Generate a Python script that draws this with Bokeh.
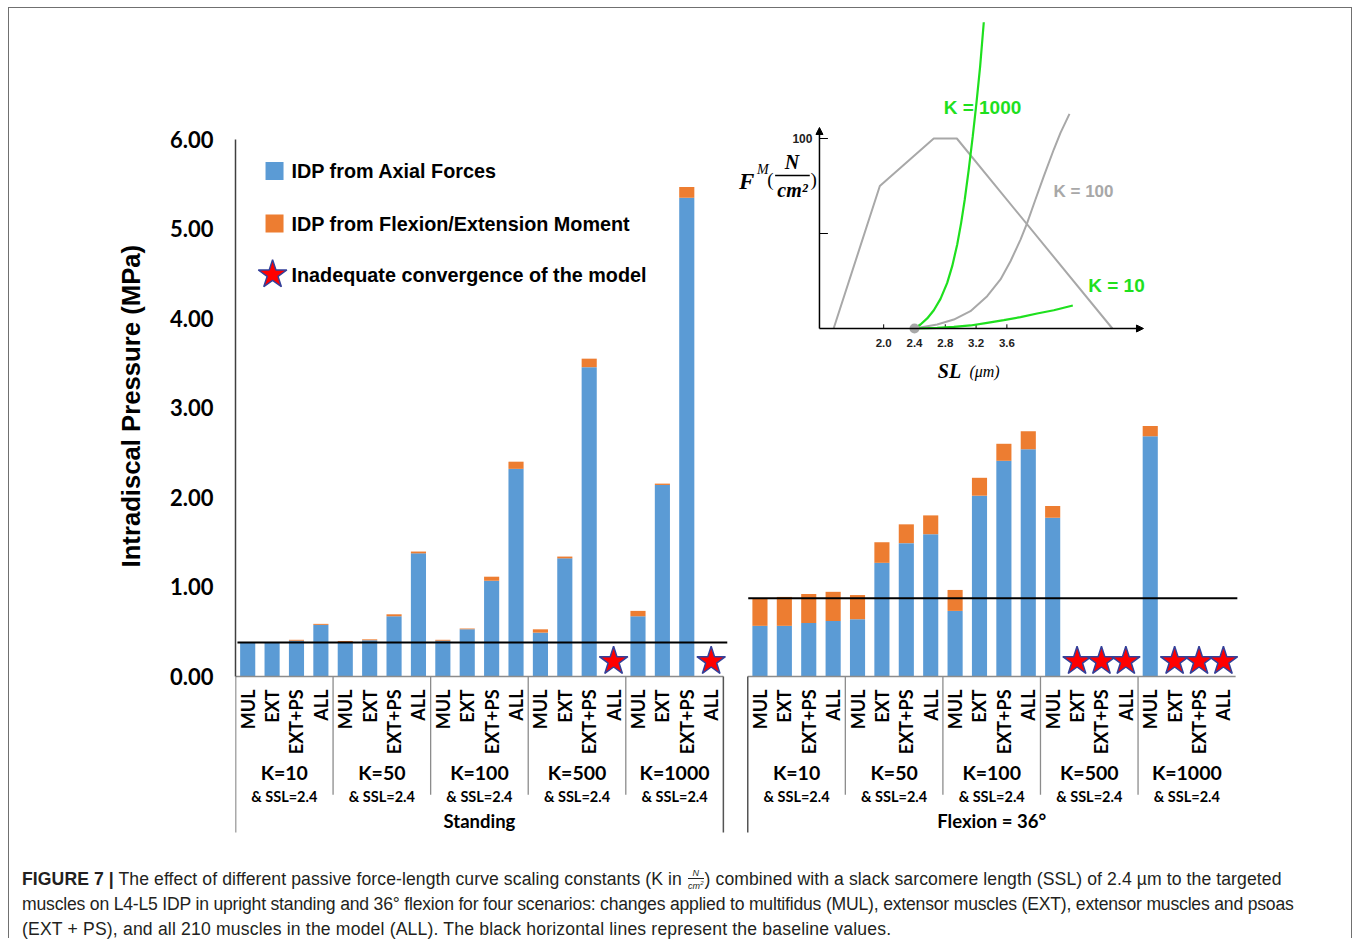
import math
import numpy as np
import pandas as pd
from bokeh.plotting import figure
from bokeh.models import (Range1d, FixedTicker, NumeralTickFormatter, Arrow,
                          NormalHead, Div, ColumnDataSource, Title)
from bokeh.layouts import column
from bokeh.embed import file_html
from bokeh.resources import INLINE
from bokeh.core.properties import value

# ---------------- data ----------------
scenarios = ["MUL", "EXT", "EXT+PS", "ALL"]
k_labels = ["K=10", "K=50", "K=100", "K=500", "K=1000"]
ssl_label = "& SSL=2.4"
postures = ["Standing", "Flexion = 36°"]
y_ticks = [0, 1, 2, 3, 4, 5, 6]
y_title = "Intradiscal Pressure (MPa)"

# IDP (MPa); 4 scenarios per K group; None = inadequate convergence
standing_axial = [0.38, 0.38, 0.40, 0.577,
                  0.38, 0.405, 0.673, 1.376,
                  0.40, 0.528, 1.07, 2.32,
                  0.49, 1.32, 3.456, None,
                  0.673, 2.14, 5.35, None]
standing_moment = [0.003, 0.003, 0.01, 0.011,
                   0.017, 0.01, 0.022, 0.02,
                   0.01, 0.008, 0.045, 0.08,
                   0.037, 0.02, 0.095, None,
                   0.06, 0.015, 0.12, None]
flexion_axial = [0.566, 0.566, 0.598, 0.62,
                 0.64, 1.27, 1.49, 1.59,
                 0.733, 2.02, 2.41, 2.54,
                 1.775, None, None, None,
                 2.685, None, None, None]
flexion_moment = [0.308, 0.323, 0.324, 0.326,
                  0.27, 0.23, 0.21, 0.21,
                  0.234, 0.20, 0.19, 0.20,
                  0.13, None, None, None,
                  0.115, None, None, None]
baselines = [0.38, 0.875]

# inset: force-length curves (SL in um, F in N/cm^2)
active_sl = [1.35, 1.95, 2.65, 2.95, 4.97]
active_f = [0, 75, 100, 100, 0]
k1000_sl = [2.40, 2.478, 2.565, 2.651, 2.738, 2.825, 2.890, 2.955, 3.006,
            3.053, 3.105, 3.157, 3.205, 3.253, 3.300]
k1000_f = [0, 2.1, 5.3, 9.6, 15.6, 24.0, 32.8, 44.2, 55.6,
           67.9, 83.7, 101.2, 118.8, 138.1, 161.2]
k100_sl = [2.40, 2.695, 2.911, 3.127, 3.344, 3.517, 3.647, 3.777, 3.864,
           3.971, 4.080, 4.209, 4.296, 4.413]
k100_f = [0, 2.1, 4.7, 9.1, 17.0, 25.8, 35.4, 46.8, 55.6,
          67.9, 80.2, 94.2, 103.0, 113.0]
k10_sl = [2.40, 2.695, 2.911, 3.127, 3.344, 3.56, 3.777, 3.993, 4.209, 4.456]
k10_f = [0, 0.35, 0.9, 1.6, 3.0, 4.4, 6.0, 7.9, 9.6, 12.1]
inset_xticks = [2.0, 2.4, 2.8, 3.2, 3.6]
inset_yticks = [50, 100]
slack_sl = 2.4

# ---------------- styles ----------------
BLUE = "#5B9BD5"
ORANGE = "#ED7D31"
GREEN = "#1EE01E"
GREY = "#A8A8A8"
STAR_Y = 0.17
BAR_W = 0.62

rows = []
for pi_, (ax_, mo_) in enumerate([(standing_axial, standing_moment),
                                   (flexion_axial, flexion_moment)]):
    for i in range(20):
        rows.append(dict(x=pi_ * 21 + i + 0.5,
                         axial=np.nan if ax_[i] is None else ax_[i],
                         moment=np.nan if mo_[i] is None else mo_[i],
                         label=scenarios[i % 4],
                         failed=ax_[i] is None))
df = pd.DataFrame(rows)
src = ColumnDataSource(df[["x", "axial", "moment"]])

p = figure(width=1342, height=844, output_backend="svg", toolbar_location=None,
           x_range=Range1d(0, 41.2), y_range=Range1d(-1.877, 7.385),
           x_axis_location=None, min_border_left=226, min_border_right=111,
           min_border_top=7, min_border_bottom=8)
p.outline_line_color = None
p.grid.visible = False
p.background_fill_color = "white"
p.border_fill_color = "white"

ax = p.yaxis[0]
ax.ticker = FixedTicker(ticks=y_ticks)
ax.formatter = NumeralTickFormatter(format="0.00")
ax.bounds = (0, 6)
ax.major_label_text_font = "Lato"
ax.major_label_text_font_style = "bold"
ax.major_label_text_font_size = "22px"
ax.major_label_text_color = "black"
ax.major_label_standoff = 22
ax.major_tick_line_color = None
ax.minor_tick_line_color = None
ax.major_tick_out = 0
ax.major_tick_in = 0
ax.axis_line_color = "#404040"
ax.axis_line_width = 1.5

# y-axis title as a side title (lets it sit off-centre like the original)
p.add_layout(Title(text=y_title, align="left", offset=277, standoff=44,
                   text_font="Liberation Sans", text_font_style="bold",
                   text_font_size="25.7px", text_color="black"), "left")

# bars
p.vbar_stack(["axial", "moment"], x="x", width=BAR_W, source=src,
             fill_color=[BLUE, ORANGE], line_color=None)

# baselines
p.segment(x0=[0.08, 21.02], x1=[20.16, 41.07], y0=baselines, y1=baselines,
          line_color="black", line_width=2)

# stars for non-converged cases
fail = df[df["failed"]]
p.scatter(x=fail["x"].tolist(), y=[STAR_Y] * len(fail), marker="star", size=30,
          fill_color="#FF0000", line_color="#33409A", line_width=1.5)

# category axis structure (below y=0)
p.segment(x0=[0, 21], x1=[20, 41], y0=[0, 0], y1=[0, 0],
          line_color="#8c8c8c", line_width=1.5)
p.segment(x0=[0, 20, 21], x1=[0, 20, 21], y0=[0, 0, 0], y1=[-1.743] * 3,
          line_color="#555555", line_width=1.5)
sep_x = [4, 8, 12, 16, 25, 29, 33, 37]
p.segment(x0=sep_x, x1=sep_x, y0=[0] * 8, y1=[-1.32] * 8,
          line_color="#8c8c8c", line_width=1.3)

p.text(x=df["x"].tolist(), y=[-0.145] * len(df), text=df["label"].tolist(),
       angle=math.pi / 2, text_align="right", text_baseline="middle",
       text_font=value("Lato"), text_font_style="bold", text_font_size="18px",
       text_color="black")
gx = [pi_ * 21 + g * 4 + 2 for pi_ in range(2) for g in range(5)]
p.text(x=gx, y=[-1.073] * 10, text=k_labels * 2, text_align="center",
       text_baseline="middle", text_font=value("Lato"), text_font_style="bold",
       text_font_size="19.5px", text_color="black")
p.text(x=gx, y=[-1.341] * 10, text=[ssl_label] * 10, text_align="center",
       text_baseline="middle", text_font=value("Lato"), text_font_style="bold",
       text_font_size="14.5px", text_color="black")
p.text(x=[10, 31], y=[-1.62, -1.62], text=postures, text_align="center",
       text_baseline="middle", text_font=value("Lato"), text_font_style="bold",
       text_font_size="18.5px", text_color="black")

# legend (manual)
p.scatter(x=[1.6], y=[5.648], marker="square", size=18, fill_color=BLUE, line_color=None)
p.scatter(x=[1.6], y=[5.061], marker="square", size=18, fill_color=ORANGE, line_color=None)
p.scatter(x=[1.52], y=[4.49], marker="star", size=30, fill_color="#FF0000",
          line_color="#33409A", line_width=1.5)
p.text(x=[2.295] * 3, y=[5.648, 5.061, 4.49],
       text=["IDP from Axial Forces", "IDP from Flexion/Extension Moment",
             "Inadequate convergence of the model"],
       text_align="left", text_baseline="middle",
       text_font=value("Liberation Sans"), text_font_style="bold",
       text_font_size="19.8px", text_color="black")

# ---------------- inset ----------------
p.extra_x_ranges = {"ix": Range1d(-6.418, 6.634)}
p.extra_y_ranges = {"iy": Range1d(-271.58, 164.74)}
IK = dict(x_range_name="ix", y_range_name="iy")
X0 = 1.166

p.add_layout(Arrow(end=NormalHead(size=7, fill_color="black", line_color="black"),
                   x_start=X0, y_start=0, x_end=X0, y_end=105.8,
                   line_color="black", line_width=1.5, **IK))
p.add_layout(Arrow(end=NormalHead(size=7, fill_color="black", line_color="black"),
                   x_start=X0, y_start=0, x_end=5.374, y_end=0,
                   line_color="black", line_width=1.5, **IK))
p.segment(x0=[X0] * 2, x1=[X0 + 0.11] * 2, y0=inset_yticks, y1=inset_yticks,
          line_color="black", line_width=1, **IK)
p.segment(x0=inset_xticks, x1=inset_xticks, y0=[0] * 5, y1=[2.2] * 5,
          line_color="black", line_width=1, **IK)
p.text(x=inset_xticks, y=[-7.4] * 5, text=[f"{v:.1f}" for v in inset_xticks],
       text_align="center", text_baseline="middle", text_font=value("Liberation Sans"),
       text_font_style="bold", text_font_size="11.5px", text_color="#222222", **IK)
p.text(x=[1.075], y=[100], text=["100"], text_align="right", text_baseline="middle",
       text_font=value("Liberation Sans"), text_font_style="bold",
       text_font_size="12px", text_color="#222222", **IK)

p.line(active_sl, active_f, line_color=GREY, line_width=2, **IK)
p.line(k100_sl, k100_f, line_color=GREY, line_width=2, **IK)
p.line(k10_sl, k10_f, line_color=GREEN, line_width=2.2, **IK)
p.line(k1000_sl, k1000_f, line_color=GREEN, line_width=2.2, **IK)
p.scatter(x=[slack_sl], y=[0], size=10, fill_color=GREY, line_color=None, **IK)

p.text(x=[3.283, 5.023], y=[116.3, 22.6], text=["K = 1000", "K = 10"],
       text_align="center", text_baseline="middle", text_font=value("Liberation Sans"),
       text_font_style="bold", text_font_size="19px", text_color=GREEN, **IK)
p.text(x=[4.595], y=[72.1], text=["K = 100"], text_align="center",
       text_baseline="middle", text_font=value("Liberation Sans"),
       text_font_style="bold", text_font_size="17px", text_color=GREY, **IK)

SERIF = value("Liberation Serif")
p.text(x=[0.221], y=[77.5], text=["F"], text_align="center", text_baseline="middle",
       text_font=SERIF, text_font_style="bold italic", text_font_size="23px",
       text_color="black", **IK)
p.text(x=[0.43], y=[83.5], text=["M"], text_align="center", text_baseline="middle",
       text_font=SERIF, text_font_style="italic", text_font_size="14px",
       text_color="black", **IK)
p.text(x=[0.53, 1.09], y=[78.4, 78.4], text=["(", ")"], text_align="center",
       text_baseline="middle", text_font=SERIF, text_font_size="19px",
       text_color="black", **IK)
p.text(x=[0.81, 0.816], y=[87.8, 72.8], text=["N", "cm²"], text_align="center",
       text_baseline="middle", text_font=SERIF, text_font_style="bold italic",
       text_font_size="20px", text_color="black", **IK)
p.segment(x0=[0.59], x1=[1.04], y0=[80.5], y1=[80.5], line_color="black",
          line_width=1.4, **IK)
p.text(x=[2.855], y=[-22.6], text=["SL"], text_align="center", text_baseline="middle",
       text_font=SERIF, text_font_style="bold italic", text_font_size="20px",
       text_color="black", **IK)
p.text(x=[3.31], y=[-22.6], text=["(μm)"], text_align="center", text_baseline="middle",
       text_font=SERIF, text_font_style="italic", text_font_size="16px",
       text_color="black", **IK)

# ---------------- caption ----------------
frac = ('<span style="display:inline-block;vertical-align:middle;text-align:center;'
        'font-size:9px;line-height:9px;font-style:italic;margin:0 1px;">'
        '<span style="display:block;border-bottom:1px solid #222;padding:0 1px;">N</span>'
        '<span style="display:block;">cm<sup style="font-size:6px;">2</sup></span></span>')
caption = (
    '<div style="font-family:\'Liberation Sans\',Arial,sans-serif;font-size:17.6px;'
    'line-height:25px;color:#231f20;padding:15px 0 0 13px;white-space:nowrap;">'
    '<div style="letter-spacing:0.09px;"><b>FIGURE 7 |</b> The effect of different passive '
    'force-length curve scaling constants (K in ' + frac + ') combined with a slack '
    'sarcomere length (SSL) of 2.4 µm to the targeted</div>'
    '<div style="letter-spacing:-0.2px;">muscles on L4-L5 IDP in upright standing and 36° '
    'flexion for four scenarios: changes applied to multifidus (MUL), extensor muscles (EXT), '
    'extensor muscles and psoas</div>'
    '<div style="letter-spacing:0.17px;">(EXT + PS), and all 210 muscles in the model (ALL). '
    'The black horizontal lines represent the baseline values.</div></div>')
div = Div(text=caption, width=1342, height=86, margin=0)

layout = column(p, div, spacing=0, margin=(7, 0, 0, 8), width=1344,
                sizing_mode="fixed",
                styles={"border": "1px solid #707070", "border-bottom": "none",
                        "background-color": "white"})

open("out.html", "w").write(file_html(layout, INLINE))
